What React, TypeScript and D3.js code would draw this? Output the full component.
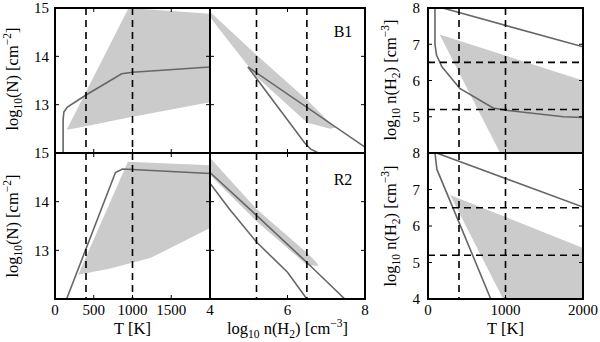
import React from 'react';
import * as d3 from 'd3';

type Pt = [number, number];

// --- data ---
// B1, column density vs temperature
const b1TempBand: Pt[] = [[150, 12.48], [300, 12.52], [1000, 12.75], [2000, 13.05], [2000, 14.88], [950, 15], [150, 12.48]];
const b1TempLine: Pt[] = [[105, 12.0], [105, 12.7], [115, 12.85], [160, 12.95], [400, 13.2], [860, 13.64], [1000, 13.67], [2000, 13.78]];
// B1, column density vs density
const b1DensBand: Pt[] = [[4, 14.92], [5.2, 14.03], [6.5, 13.1], [7.1, 12.62], [7.25, 12.53], [7.1, 12.5], [6.5, 12.63], [5.2, 13.58], [4.2, 14.6], [4, 14.82]];
const b1DensLineA: Pt[] = [[4.98, 13.78], [8, 12.12]];
const b1DensLineB: Pt[] = [[4.98, 13.78], [6.45, 12.2], [6.6, 12.08], [6.8, 12.0]];
// R2, column density vs temperature
const r2TempBand: Pt[] = [[300, 12.5], [700, 12.62], [1230, 12.84], [2000, 13.46], [2000, 14.75], [940, 14.82], [300, 12.5]];
const r2TempLine: Pt[] = [[150, 12.0], [780, 14.6], [870, 14.67], [1000, 14.66], [2000, 14.58]];
// R2, column density vs density
const r2DensBand: Pt[] = [[4, 14.9], [5.2, 13.85], [6.5, 12.95], [6.75, 12.75], [6.8, 12.68], [6.5, 12.7], [5.2, 13.6], [4, 14.55]];
const r2DensLineA: Pt[] = [[4, 14.6], [5.2, 13.72], [6.5, 12.75], [7.48, 12.0]];
const r2DensLineB: Pt[] = [[4, 14.38], [4.5, 13.85], [5.2, 13.17], [6, 12.55], [6.5, 12.0]];
// density vs temperature (B1 top, R2 bottom)
const b1NTBand: Pt[] = [[150, 7.27], [2000, 6.0], [2000, 4.0], [930, 4.0]];
const b1NTLineA: Pt[] = [[90, 8.0], [90, 7.0], [110, 6.7], [180, 6.38], [410, 5.78], [840, 5.24], [1000, 5.18], [1750, 5.0], [2000, 4.98]];
const b1NTLineB: Pt[] = [[190, 8.0], [2000, 6.93]];
const r2NTBand: Pt[] = [[285, 6.85], [2000, 5.4], [2000, 4.0], [970, 4.0]];
const r2NTLineA: Pt[] = [[90, 8.0], [115, 7.55], [400, 6.1], [810, 4.0]];
const r2NTLineB: Pt[] = [[110, 8.0], [2000, 6.52]];

const tempMarks = [400, 1000];
const densMarks = [5.2, 6.5];

const tTicks = [500, 1000, 1500];
const nTicks = [6];
const tRightTicks = [1000];
const colTicks = [13, 14];
const densYTicks = [5, 6, 7];

const tLabels = [0, 500, 1000, 1500];
const nLabels = [4, 6, 8];
const tRightLabels = [0, 1000, 2000];
const colLabels = [15, 14, 13];
const densTopLabels = [8, 7, 6, 5];
const densBotLabels = [8, 7, 6, 5, 4];

// --- layout ---
const W = 600, H = 342;
const rows = [[8, 153], [153, 299]];
const xT = d3.scaleLinear().domain([0, 2000]).range([55, 210]);
const xN = d3.scaleLinear().domain([4, 8]).range([210, 365]);
const xR = d3.scaleLinear().domain([0, 2000]).range([428, 583]);
const yCol = rows.map(([t, b]) => d3.scaleLinear().domain([12, 15]).range([b, t]));
const yDen = rows.map(([t, b]) => d3.scaleLinear().domain([4, 8]).range([b, t]));

const FILL = '#cbcbcb';
const LINE = '#666666';
const FONT = "'Liberation Serif', 'Times New Roman', Times, serif";
const TICK_FS = 15;
const LAB_FS = 16.5;
const SUB_FS = 11.5;

type Panel = {
  id: string;
  x: d3.ScaleLinear<number, number>;
  y: d3.ScaleLinear<number, number>;
  bands: Pt[][];
  lines: Pt[][];
  vMarks: number[];
  hMarks: number[];
  xTicks: number[];
  yTicks: number[];
};

const panels: Panel[] = [
  { id: 'a', x: xT, y: yCol[0], bands: [b1TempBand], lines: [b1TempLine], vMarks: tempMarks, hMarks: [], xTicks: tTicks, yTicks: colTicks },
  { id: 'b', x: xN, y: yCol[0], bands: [b1DensBand], lines: [b1DensLineA, b1DensLineB], vMarks: densMarks, hMarks: [], xTicks: nTicks, yTicks: colTicks },
  { id: 'c', x: xR, y: yDen[0], bands: [b1NTBand], lines: [b1NTLineA, b1NTLineB], vMarks: tempMarks, hMarks: densMarks, xTicks: tRightTicks, yTicks: densYTicks },
  { id: 'd', x: xT, y: yCol[1], bands: [r2TempBand], lines: [r2TempLine], vMarks: tempMarks, hMarks: [], xTicks: tTicks, yTicks: colTicks },
  { id: 'e', x: xN, y: yCol[1], bands: [r2DensBand], lines: [r2DensLineA, r2DensLineB], vMarks: densMarks, hMarks: [], xTicks: nTicks, yTicks: colTicks },
  { id: 'f', x: xR, y: yDen[1], bands: [r2NTBand], lines: [r2NTLineA, r2NTLineB], vMarks: tempMarks, hMarks: densMarks, xTicks: tRightTicks, yTicks: densYTicks },
];

const PanelView = ({ p }: { p: Panel }) => {
  const [x0, x1] = p.x.range();
  const [y0, y1] = p.y.range();
  const line = d3.line<Pt>().x(d => p.x(d[0])).y(d => p.y(d[1]));
  const tk = 4;
  return (
    <g>
      <defs>
        <clipPath id={'clip-' + p.id}>
          <rect x={x0} y={y1} width={x1 - x0} height={y0 - y1} />
        </clipPath>
      </defs>
      <g clipPath={`url(#clip-${p.id})`}>
        {p.bands.map((b, i) => <path key={i} d={line(b) + 'Z'} fill={FILL} stroke="none" />)}
        {p.lines.map((l, i) => <path key={i} d={line(l) || ''} fill="none" stroke={LINE} strokeWidth={1.6} />)}
        {p.vMarks.map(v => (
          <line key={'v' + v} x1={p.x(v)} x2={p.x(v)} y1={y1} y2={y0} stroke="#000" strokeWidth={1.6} strokeDasharray="7,5" />
        ))}
        {p.hMarks.map(v => (
          <line key={'h' + v} x1={x0} x2={x1} y1={p.y(v)} y2={p.y(v)} stroke="#000" strokeWidth={1.6} strokeDasharray="7,5" />
        ))}
      </g>
      {p.xTicks.map(v => (
        <g key={'xt' + v} stroke="#000" strokeWidth={1}>
          <line x1={p.x(v)} x2={p.x(v)} y1={y0} y2={y0 - tk} />
          <line x1={p.x(v)} x2={p.x(v)} y1={y1} y2={y1 + tk} />
        </g>
      ))}
      {p.yTicks.map(v => (
        <g key={'yt' + v} stroke="#000" strokeWidth={1}>
          <line x1={x0} x2={x0 + tk} y1={p.y(v)} y2={p.y(v)} />
          <line x1={x1} x2={x1 - tk} y1={p.y(v)} y2={p.y(v)} />
        </g>
      ))}
      <rect x={x0} y={y1} width={x1 - x0} height={y0 - y1} fill="none" stroke="#000" strokeWidth={2} />
    </g>
  );
};

const DensLabel = () => (
  <>log<tspan fontSize={SUB_FS} dy={4}>10</tspan><tspan dy={-4}> n(H</tspan><tspan fontSize={SUB_FS} dy={4}>2</tspan><tspan dy={-4}>) [cm</tspan><tspan fontSize={SUB_FS} dy={-7}>−3</tspan><tspan dy={7}>]</tspan></>
);

const YLabel = ({ x, y, kind }: { x: number; y: number; kind: 'N' | 'n' }) => (
  <text transform={`translate(${x},${y}) rotate(-90)`} textAnchor="middle" fontSize={LAB_FS} fontFamily={FONT}>
    {kind === 'N' ? (
      <>log<tspan fontSize={SUB_FS} dy={4}>10</tspan><tspan dy={-4}>(N) [cm</tspan><tspan fontSize={SUB_FS} dy={-7}>−2</tspan><tspan dy={7}>]</tspan></>
    ) : <DensLabel />}
  </text>
);

export default function App() {
  const bottom = rows[1][1];
  return (
    <svg width={W} height={H} style={{ position: 'absolute', left: 0, top: 0, background: '#fff' }}>
      <rect width={W} height={H} fill="#fff" />
      {panels.map(p => <PanelView key={p.id} p={p} />)}

      <g fontFamily={FONT} fontSize={TICK_FS} fill="#000">
        {rows.map((_, r) => colLabels.map(v => (
          <text key={`cl${r}-${v}`} x={49} y={yCol[r](v)} dy="0.35em" textAnchor="end">{v}</text>
        )))}
        {densTopLabels.map(v => (
          <text key={'dt' + v} x={420} y={yDen[0](v)} dy="0.35em" textAnchor="end">{v}</text>
        ))}
        {densBotLabels.map(v => (
          <text key={'db' + v} x={420} y={yDen[1](v)} dy="0.35em" textAnchor="end">{v}</text>
        ))}
        {tLabels.map(v => (
          <text key={'tl' + v} x={xT(v)} y={bottom + 16} textAnchor="middle">{v}</text>
        ))}
        {nLabels.map(v => (
          <text key={'nl' + v} x={xN(v)} y={bottom + 16} textAnchor="middle">{v}</text>
        ))}
        {tRightLabels.map(v => (
          <text key={'rl' + v} x={xR(v)} y={bottom + 16} textAnchor="middle">{v}</text>
        ))}
        <text x={343} y={37} textAnchor="middle" fontSize={16}>B1</text>
        <text x={343} y={185} textAnchor="middle" fontSize={16}>R2</text>
      </g>
      <g fontFamily={FONT} fontSize={LAB_FS} fill="#000">
        <text x={xT(1000)} y={bottom + 35} textAnchor="middle">T [K]</text>
        <text x={xR(1000)} y={bottom + 35} textAnchor="middle">T [K]</text>
        <text x={xN(6)} y={bottom + 35} textAnchor="middle"><DensLabel /></text>
      </g>

      <YLabel x={18} y={79} kind="N" />
      <YLabel x={18} y={226} kind="N" />
      <YLabel x={396} y={80} kind="n" />
      <YLabel x={396} y={226} kind="n" />
    </svg>
  );
}
